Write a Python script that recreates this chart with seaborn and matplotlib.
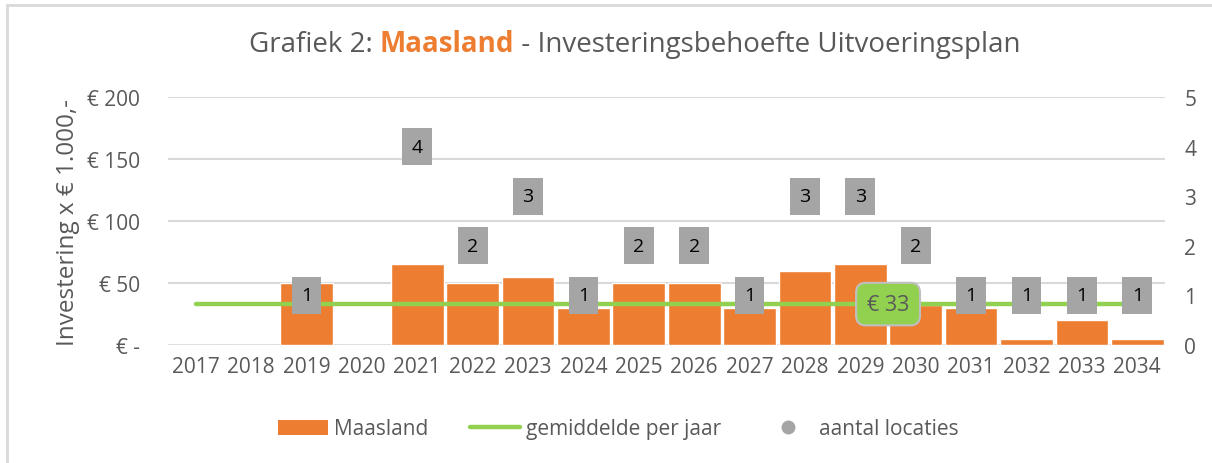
import numpy as np
import pandas as pd
import seaborn as sns
import matplotlib.pyplot as plt
from matplotlib.lines import Line2D
from matplotlib.patches import Patch
from matplotlib.ticker import FuncFormatter

# data
jaren = ['2017', '2018', '2019', '2020', '2021', '2022', '2023', '2024', '2025',
         '2026', '2027', '2028', '2029', '2030', '2031', '2032', '2033', '2034']
investering = [0, 0, 50, 0, 65, 50, 55, 30, 50, 50, 30, 60, 65, 32, 30, 5, 20, 5]
aantal_locaties = [None, None, 1, None, 4, 2, 3, 1, 2, 2, 1, 3, 3, 2, 1, 1, 1, 1]
gemiddelde = 33

oranje = '#ED7D31'
groen = '#92D050'
grijs = '#A5A5A5'
tekst = '#595959'
raster = '#D9D9D9'

sns.set_style('white')
plt.rcParams['font.family'] = ['Open Sans', 'DejaVu Sans']

df = pd.DataFrame({'jaar': jaren, 'investering': investering})

fig = plt.figure(figsize=(12.12, 4.64), dpi=100)
ax = fig.add_axes([168 / 1212, 1 - 346 / 464, 997 / 1212, 248 / 464])

#%% bars
sns.barplot(x='jaar', y='investering', data=df, color=oranje, saturation=1,
            width=0.95, ax=ax, zorder=2)
ax.set_ylim(0, 200)
ax.set_xlim(-0.5, len(jaren) - 0.5)
ax.set_yticks([0, 50, 100, 150, 200])
ax.yaxis.set_major_formatter(FuncFormatter(lambda v, p: '€ -' if v == 0 else f'€ {v:.0f}'))
ax.grid(axis='y', color=raster, lw=1.5, zorder=0)
ax.set_axisbelow(True)
for s in ax.spines.values():
    s.set_visible(False)
ax.tick_params(axis='both', length=0, labelsize=15, labelcolor=tekst)
ax.tick_params(axis='y', pad=20)
ax.tick_params(axis='x', pad=8)
ax.set_xlabel('')
ax.set_ylabel('Investering x € 1.000,-', fontsize=17.5, color=tekst)
ax.yaxis.set_label_coords(-0.088, 0.5)

#%% average line
ax.hlines(gemiddelde, 0, len(jaren) - 1, color=groen, lw=3.2, capstyle='round', zorder=3)
ax.text(12.5, gemiddelde, f'€ {gemiddelde}', ha='center', va='center', fontsize=15.5,
        color=tekst, zorder=5,
        bbox=dict(boxstyle='round,pad=0.5,rounding_size=0.45', fc=groen, ec='#BFBFBF', lw=1.5))

#%% secondary axis with counts
ax2 = ax.twinx()
ax2.set_ylim(0, 5)
ax2.set_yticks([0, 1, 2, 3, 4, 5])
for s in ax2.spines.values():
    s.set_visible(False)
ax2.tick_params(axis='y', length=0, labelsize=15, labelcolor=tekst, pad=14)
for i, n in enumerate(aantal_locaties):
    if n is None:
        continue
    ax2.text(i, n, str(n), ha='center', va='center', fontsize=14, color='black',
             bbox=dict(boxstyle='square,pad=0.48', fc=grijs, ec='none'), zorder=4)

#%% title in two colours
delen = [('Grafiek 2: ', tekst, 'normal'), ('Maasland', oranje, 'bold'),
         (' - Investeringsbehoefte Uitvoeringsplan', tekst, 'normal')]
fig.canvas.draw()
r = fig.canvas.get_renderer()
items = []
breedte = 0
for t, c, w in delen:
    tt = fig.text(0, 1 - 45 / 464, t, color=c, fontweight=w, fontsize=20, va='center')
    bb = tt.get_window_extent(renderer=r)
    items.append((tt, bb.width))
    breedte += bb.width
x0 = (635 - breedte / 2)
for tt, w in items:
    tt.set_x(x0 / 1212)
    x0 += w

#%% legend
handles = [Patch(fc=oranje, ec='none', label='Maasland'),
           Line2D([], [], color=groen, lw=3.2, solid_capstyle='round', label='gemiddelde per jaar'),
           Line2D([], [], color=grijs, marker='o', ls='', ms=9, label='aantal locaties')]
fig.legend(handles=handles, loc='center', bbox_to_anchor=(0.51, 1 - 430 / 464), ncol=3,
           frameon=False, fontsize=15, labelcolor=tekst, columnspacing=2.0,
           handlelength=2.4, handletextpad=0.3)

#%% chart border
fig.add_artist(Line2D([7 / 1212, 1], [1 - 6 / 464] * 2, color=raster, lw=2, transform=fig.transFigure))
fig.add_artist(Line2D([7 / 1212] * 2, [0, 1 - 6 / 464], color=raster, lw=2, transform=fig.transFigure))

fig.savefig('out.png', dpi=100)
